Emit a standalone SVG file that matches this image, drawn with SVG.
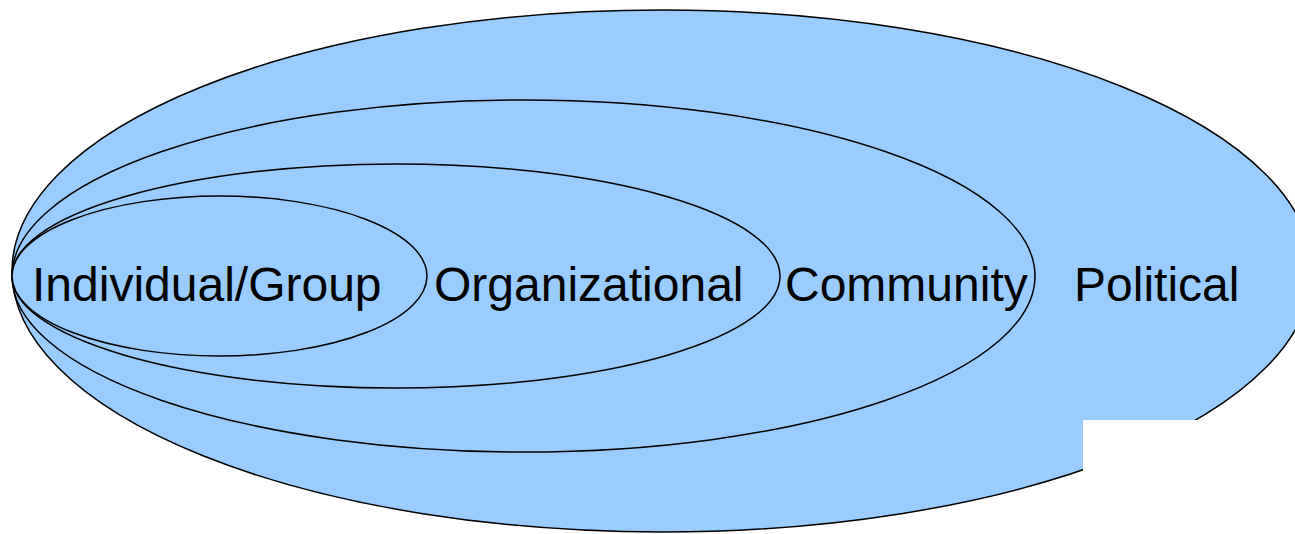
<svg xmlns="http://www.w3.org/2000/svg" width="1295" height="534" viewBox="0 0 1295 534">
<style>
.e{fill:#99CCFF;stroke:#000;stroke-width:1.5}
.t{font-family:"Liberation Sans",Arial,sans-serif;font-size:48px;fill:#000}
</style>
<rect width="1295" height="534" fill="#fff"/>
<g id="political">
<ellipse class="e" cx="662" cy="271" rx="650" ry="261"/>
<text class="t" x="1074" y="301">Political</text>
</g>
<g id="community">
<ellipse class="e" cx="523.5" cy="276" rx="511.5" ry="176"/>
<text class="t" x="785" y="301">Community</text>
</g>
<g id="organizational">
<ellipse class="e" cx="396" cy="276" rx="384" ry="112"/>
<text class="t" x="434" y="301">Organizational</text>
</g>
<g id="individual">
<ellipse class="e" cx="219.5" cy="276" rx="207.5" ry="80"/>
<text class="t" x="32" y="301">Individual/Group</text>
</g>
<rect x="1083" y="420" width="212" height="114" fill="#fff"/>
<g id="connectors"/>
</svg>
